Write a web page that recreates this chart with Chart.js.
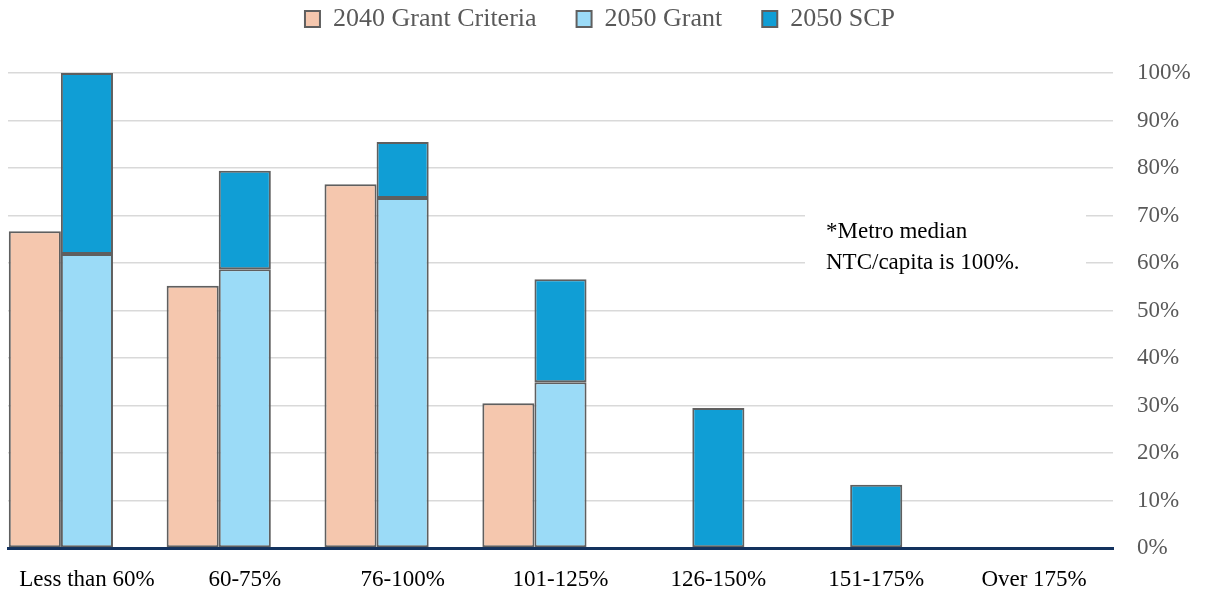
<!DOCTYPE html>
<html>
<head>
<meta charset="utf-8">
<script src="https://cdn.jsdelivr.net/npm/chart.js@4"></script>
<style>
  html, body { margin: 0; padding: 0; background: #fff; }
  #wrap { width: 1208px; height: 593px; }
</style>
</head>
<body>
<div id="wrap"><canvas id="ntcChart"></canvas></div>
<script>
// categories (NTC per capita bands)
var categories = ['Less than 60%', '60-75%', '76-100%', '101-125%', '126-150%', '151-175%', 'Over 175%'];

// series values, percent
var grant2040 = [66.7, 55.2, 76.6, 30.5, 0, 0, 0];
var grant2050 = [61.9, 58.7, 73.7, 34.9, 0, 0, 0];
var scp2050 = [38.1, 20.7, 11.8, 21.7, 29.5, 13.3, 0];
// empty third slot in every category
var spacer = [null, null, null, null, null, null, null];

var yTicks = [0, 10, 20, 30, 40, 50, 60, 70, 80, 90, 100];

var serif = '"Liberation Serif", "Times New Roman", serif';

// white text box with the note, breaks the gridlines behind it
var notePlugin = {
    id: 'note',
    beforeLayout: function (chart) {
        // extra room between legend and plot
        var lg = chart.legend;
        if (lg && !lg._extraGap) {
            var fit = lg.fit;
            lg.fit = function () {
                fit.call(this);
                this.height += 31;
            };
            lg._extraGap = true;
        }
    },
    afterDatasetsDraw: function (chart) {
        var ctx = chart.ctx;
        var y = chart.scales.y;
        var area = chart.chartArea;
        var left = area.right - 308;
        var top = y.getPixelForValue(73);
        var bottom = y.getPixelForValue(57);
        ctx.save();
        ctx.fillStyle = '#ffffff';
        ctx.fillRect(left, top, area.right - 27 - left, bottom - top);
        ctx.fillStyle = '#000000';
        ctx.font = '23px ' + serif;
        ctx.textBaseline = 'middle';
        ctx.textAlign = 'left';
        ctx.fillText('*Metro median', left + 21, y.getPixelForValue(66.5));
        ctx.fillText('NTC/capita is 100%.', left + 21, y.getPixelForValue(60));
        ctx.restore();
    }
};

var ctx = document.getElementById('ntcChart').getContext('2d');
var ntcChart = new Chart(ctx, {
    type: 'bar',
    data: {
        labels: categories,
        datasets: [
            {
                label: '2040 Grant Criteria',
                backgroundColor: 'rgb(245, 199, 174)',
                borderColor: '#5f5f5f',
                borderWidth: 2,
                stack: 'a',
                data: grant2040
            },
            {
                label: '2050 Grant',
                backgroundColor: 'rgb(155, 219, 247)',
                borderColor: '#5f5f5f',
                borderWidth: 2,
                stack: 'b',
                data: grant2050
            },
            {
                label: '2050 SCP',
                backgroundColor: 'rgb(16, 158, 213)',
                borderColor: '#5f5f5f',
                borderWidth: 2,
                stack: 'b',
                data: scp2050
            },
            {
                label: 'spacer',
                backgroundColor: 'rgba(0,0,0,0)',
                stack: 'c',
                data: spacer
            }
        ]
    },
    plugins: [notePlugin],
    options: {
        responsive: true,
        maintainAspectRatio: false,
        animation: false,
        layout: {
            padding: { left: 8, right: 16, top: -34, bottom: 1 }
        },
        datasets: {
            bar: {
                barPercentage: 1,
                categoryPercentage: 0.99,
                borderSkipped: false
            }
        },
        plugins: {
            tooltip: { enabled: false },
            legend: {
                position: 'top',
                labels: {
                    filter: function (item) { return item.text !== 'spacer'; },
                    font: { family: serif, size: 26 },
                    color: '#595959',
                    boxWidth: 15,
                    boxHeight: 16,
                    padding: 40
                }
            }
        },
        scales: {
            x: {
                stacked: true,
                grid: { display: false },
                border: { color: '#13325e', width: 3 },
                afterFit: function (axis) { axis.height = 44; },
                ticks: {
                    font: { family: serif, size: 23 },
                    color: '#000000',
                    padding: 10,
                    maxRotation: 0
                }
            },
            y: {
                stacked: true,
                position: 'right',
                min: 0,
                max: 100,
                afterBuildTicks: function (axis) {
                    axis.ticks = yTicks.map(function (v) { return { value: v }; });
                },
                afterFit: function (axis) { axis.width = 79; },
                grid: { color: '#d9d9d9', lineWidth: 1.5, drawTicks: false },
                border: { display: false },
                ticks: {
                    font: { family: serif, size: 23 },
                    color: '#595959',
                    padding: 24,
                    callback: function (v) { return v + '%'; }
                }
            }
        }
    }
});
</script>
</body>
</html>
